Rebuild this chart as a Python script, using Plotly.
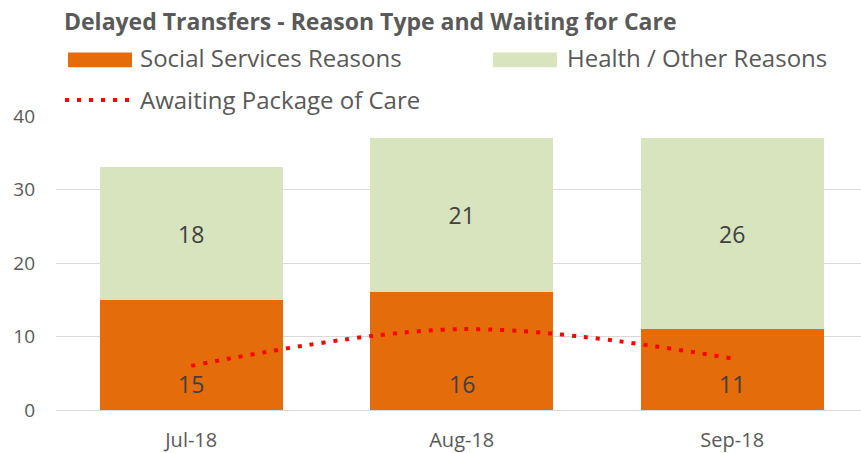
import plotly.graph_objects as go

months = ["Jul-18", "Aug-18", "Sep-18"]
social = [15, 16, 11]
health = [18, 21, 26]
awaiting = [6, 11, 7]
y_ticks = [0, 10, 20, 30, 40]

ORANGE = "#E46C0A"
GREEN = "#D7E4BD"
RED = "#FF0000"
TXT = "#595959"
LBL = "#404040"
FONT = "Open Sans"

W, H = 861, 453
L, R, T, B = 56, 0, 116, 41
PW = W - L - R
PH = H - T - B


def px(x):
    return (x - L) / PW


def py(y):
    return (H - B - y) / PH


fig = go.Figure()
fig.add_trace(go.Bar(x=months, y=social, name="Social Services Reasons",
                     marker=dict(color=ORANGE, line=dict(width=0)), width=0.675,
                     showlegend=False, hoverinfo="x+y"))
fig.add_trace(go.Bar(x=months, y=health, name="Health / Other Reasons",
                     marker=dict(color=GREEN, line=dict(width=0)), width=0.675,
                     text=[str(v) for v in health], textposition="inside",
                     insidetextanchor="middle",
                     textfont=dict(family=FONT, size=23, color=LBL),
                     showlegend=False))
fig.add_trace(go.Scatter(x=months, y=awaiting, mode="lines", name="Awaiting Package of Care",
                         line=dict(color=RED, width=4, dash="4px,8px", shape="spline"),
                         showlegend=False))

annotations = []
for m, v in zip(months, social):
    annotations.append(dict(x=m, y=0, xref="x", yref="y", text=str(v), showarrow=False,
                            yanchor="middle", yshift=26,
                            font=dict(family=FONT, size=23, color=LBL)))

# Title
annotations.append(dict(x=px(62), y=py(20), xref="paper", yref="paper", xanchor="left",
                        yanchor="middle", showarrow=False,
                        text="<b>Delayed Transfers - Reason Type and Waiting for Care</b>",
                        font=dict(family=FONT, size=23, color=TXT)))

# Manual legend
legend_items = [("Social Services Reasons", 138, 57), ("Health / Other Reasons", 565, 57),
                ("Awaiting Package of Care", 138, 99)]
for text, lx, ly in legend_items:
    annotations.append(dict(x=px(lx), y=py(ly), xref="paper", yref="paper", xanchor="left",
                            yanchor="middle", showarrow=False, text=text,
                            font=dict(family=FONT, size=24, color=TXT)))

shapes = [
    dict(type="rect", xref="paper", yref="paper", x0=px(68), x1=px(132), y0=py(67), y1=py(52),
         fillcolor=ORANGE, line=dict(width=0)),
    dict(type="rect", xref="paper", yref="paper", x0=px(493), x1=px(557), y0=py(67), y1=py(52),
         fillcolor=GREEN, line=dict(width=0)),
    dict(type="line", xref="paper", yref="paper", x0=px(65), x1=px(133), y0=py(100), y1=py(100),
         line=dict(color=RED, width=4, dash="4px,8px")),
]

fig.update_layout(
    width=W, height=H,
    margin=dict(l=L, r=R, t=T, b=B, pad=0),
    barmode="stack",
    plot_bgcolor="white", paper_bgcolor="white",
    showlegend=False,
    annotations=annotations,
    shapes=shapes,
    font=dict(family=FONT, color=TXT),
    xaxis=dict(range=[-0.5, 2.476], showgrid=False, showline=False, ticks="",
               tickfont=dict(family=FONT, size=20, color=TXT), ticklabelstandoff=16),
    yaxis=dict(range=[0, 40], tickvals=y_ticks, showgrid=True, gridcolor="#D9D9D9", gridwidth=1,
               zeroline=True, zerolinecolor="#D9D9D9", zerolinewidth=1, showline=False,
               ticks="", tickfont=dict(family=FONT, size=19, color=TXT), ticklabelstandoff=20),
)

fig.write_html("out.html", config={"displayModeBar": False},
               post_script="document.body.style.margin='0';document.body.style.overflow='hidden';"
                           "window.scrollTo(0,0);")
